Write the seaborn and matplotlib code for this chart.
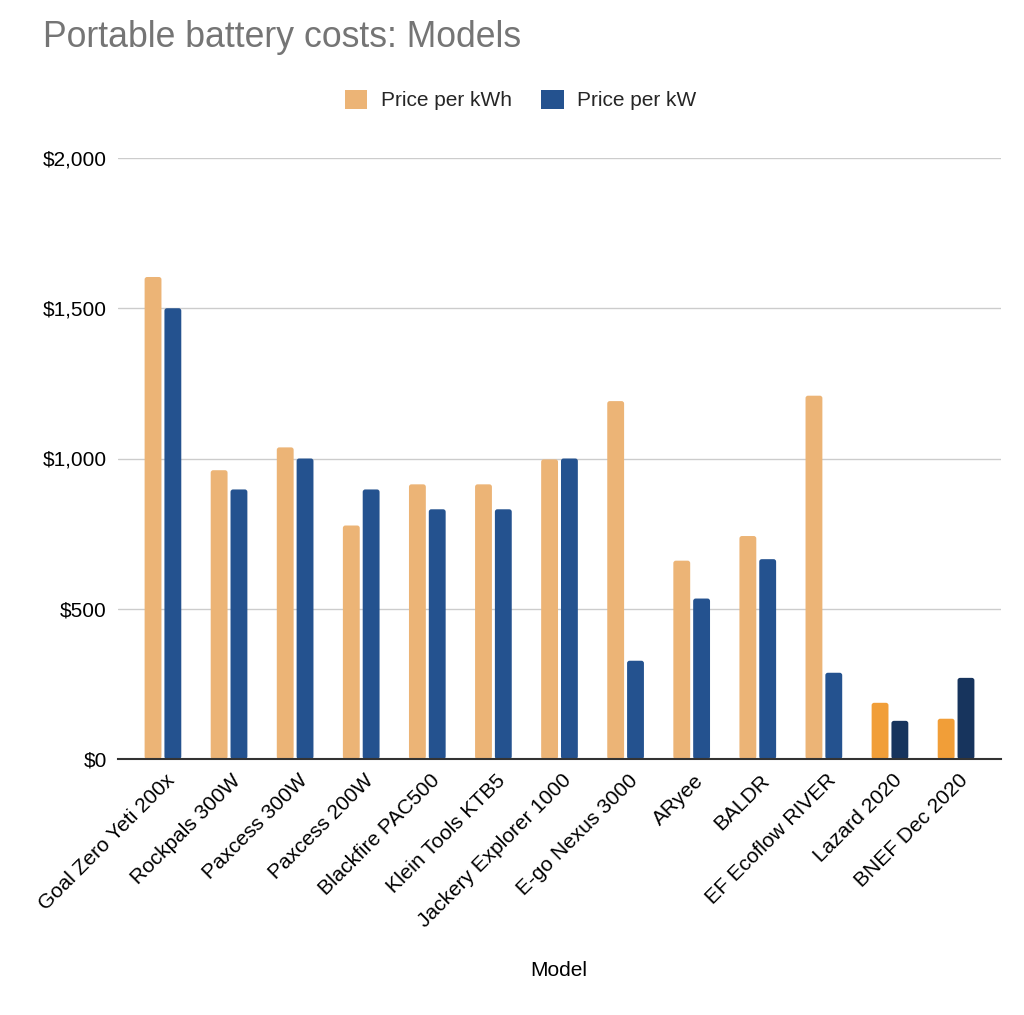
import matplotlib
matplotlib.use("Agg")
import matplotlib.pyplot as plt
import matplotlib.transforms as mtransforms
import seaborn as sns
import pandas as pd
from matplotlib.patches import Patch, FancyBboxPatch
from matplotlib.ticker import FuncFormatter

models = ["Goal Zero Yeti 200x", "Rockpals 300W", "Paxcess 300W", "Paxcess 200W",
          "Blackfire PAC500", "Klein Tools KTB5", "Jackery Explorer 1000",
          "E-go Nexus 3000", "ARyee", "BALDR", "EF Ecoflow RIVER",
          "Lazard 2020", "BNEF Dec 2020"]
price_per_kwh = [1604, 961, 1037, 777, 914, 914, 997, 1191, 660, 742, 1209, 187, 134]
price_per_kw = [1500, 897, 1000, 897, 831, 831, 1000, 327, 534, 665, 287, 127, 270]
series_names = ["Price per kWh", "Price per kW"]
highlight = ["Lazard 2020", "BNEF Dec 2020"]

base_colors = ["#ECB476", "#24528F"]
highlight_colors = ["#F19E38", "#17345D"]

df = pd.DataFrame({
    "Model": models * 2,
    "Series": [series_names[0]] * len(models) + [series_names[1]] * len(models),
    "Value": price_per_kwh + price_per_kw,
})

sns.set_theme(style="white")
plt.rcParams["font.family"] = ["Liberation Sans", "DejaVu Sans"]

fig = plt.figure(figsize=(10.24, 10.15), dpi=100)
ax = fig.add_axes([118 / 1024, 1 - 759 / 1015, (1001 - 118) / 1024, (759 - 158) / 1015])

sns.barplot(data=df, x="Model", y="Value", hue="Series", hue_order=series_names,
            palette=base_colors, width=0.6, gap=0.15, ax=ax, legend=False,
            saturation=1, linewidth=0, errorbar=None)

ax.set_ylim(0, 2000)
ax.set_xlim(-0.5 - 0.18, len(models) - 0.5 + 0.18)

# rounded bar tops: replace each rectangle with a rounded box of the same geometry
px_x = (len(models) + 0.36) / 883.0   # data units per pixel in x
px_y = 2000 / 601.0                   # data units per pixel in y
for si, cont in enumerate(ax.containers):
    for mi, bar in enumerate(cont.patches):
        color = highlight_colors[si] if models[mi] in highlight else base_colors[si]
        x, y = bar.get_x(), bar.get_y()
        w, h = bar.get_width(), bar.get_height()
        bar.set_visible(False)
        rb = FancyBboxPatch((x, y), w, h,
                            boxstyle=f"round,pad=0,rounding_size={2.5 * px_x}",
                            mutation_aspect=px_y / px_x,
                            facecolor=color, edgecolor="none", zorder=2)
        ax.add_patch(rb)

ax.set_yticks([0, 500, 1000, 1500, 2000])
ax.yaxis.set_major_formatter(FuncFormatter(lambda v, p: f"${v:,.0f}"))
ax.grid(axis="y", color="#CCCCCC", linewidth=1)
ax.set_axisbelow(True)
for s in ["top", "right", "left"]:
    ax.spines[s].set_visible(False)
ax.spines["bottom"].set_color("#333333")
ax.spines["bottom"].set_linewidth(1.5)
ax.spines["bottom"].set_zorder(3)
ax.tick_params(axis="y", length=0, pad=8.0, labelsize=15, labelcolor="#000000")
ax.tick_params(axis="x", length=0, pad=8.5, labelsize=15, labelcolor="#000000")
offset = mtransforms.ScaledTranslation(0.025, 0, fig.dpi_scale_trans)
for lbl in ax.get_xticklabels():
    lbl.set_rotation(45)
    lbl.set_ha("right")
    lbl.set_va("top")
    lbl.set_rotation_mode("anchor")
    lbl.set_transform(lbl.get_transform() + offset)
ax.set_ylabel("")
ax.set_xlabel("Model", fontsize=15, color="#000000")
ax.xaxis.set_label_coords((559 - 118) / 883, (759 - 970) / 601)
ax.xaxis.label.set_va("center")

fig.text(43 / 1024, 1 - 47.3 / 1015, "Portable battery costs: Models", fontsize=25.7,
         color="#757575", va="baseline", ha="left")

handles = [Patch(facecolor=c, edgecolor="none") for c in base_colors]
fig.legend(handles, series_names, loc="center", bbox_to_anchor=(521 / 1024, 1 - 100 / 1015),
           ncol=2, frameon=False, fontsize=15, handlelength=1.06, handleheight=1.06,
           columnspacing=1.4, handletextpad=0.67, borderpad=0, borderaxespad=0)

fig.savefig("out.png", dpi=100, facecolor="white")
